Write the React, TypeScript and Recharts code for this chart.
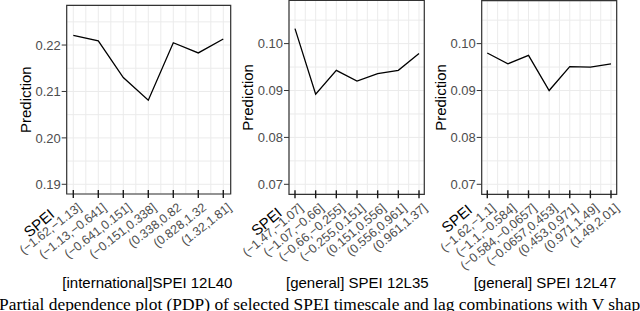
import React from 'react';
import { LineChart, Line, XAxis, YAxis, CartesianGrid, ReferenceArea } from 'recharts';

// bins of the SPEI value, one per x position
const CATS_INTL_L40 = ['(−1.62,−1.13]', '(−1.13,−0.641]', '(−0.641,0.151]', '(−0.151,0.338]', '(0.338,0.82', '(0.828,1.32', '(1.32,1.81]'];
const CATS_GEN_L35 = ['(−1.47,−1.07]', '(−1.07,−0.66]', '(−0.66,−0.255]', '(−0.255,0.151]', '(0.151,0.556]', '(0.556,0.961]', '(0.961,1.37]'];
const CATS_GEN_L47 = ['(−1.62,−1.1]', '(−1.1,−0.584]', '(−0.584,−0.0657]', '(−0.0657,0.453]', '(0.453,0.971]', '(0.971,1.49]', '(1.49,2.01]'];

// predicted values
const PRED_INTL_L40 = [0.2221, 0.2209, 0.213, 0.2081, 0.2205, 0.2183, 0.2213];
const PRED_GEN_L35 = [0.1032, 0.0892, 0.0943, 0.092, 0.0936, 0.0943, 0.0979];
const PRED_GEN_L47 = [0.098, 0.0957, 0.0975, 0.09, 0.0951, 0.095, 0.0957];

const Y_TICKS_L40 = [0.19, 0.2, 0.21, 0.22];
const Y_TICKS_GEN = [0.07, 0.08, 0.09, 0.1];

const TITLES = ['[international]SPEI 12L40', '[general] SPEI 12L35', '[general] SPEI 12L47'];
const CAPTION = 'Partial dependence plot (PDP) of selected SPEI timescale and lag combinations with V shape';

const H = 311;
const SANS = '"Liberation Sans", Arial, sans-serif';

const panels = [
  {
    cats: CATS_INTL_L40, pred: PRED_INTL_L40, yTicks: Y_TICKS_L40, title: TITLES[0],
    chartLeft: 0, plotLeft: 66.7, plotRight: 230.7, plotTop: 5.3, plotBottom: 194,
    xDomain: [0.736, 7.296], yDomain: [0.18791, 0.22856],
    titleX: 147.4, spei: [39, 223], angle: -38,
  },
  {
    cats: CATS_GEN_L35, pred: PRED_GEN_L35, yTicks: Y_TICKS_GEN, title: TITLES[1],
    chartLeft: 234, plotLeft: 289, plotRight: 424.3, plotTop: 0.5, plotBottom: 194.3,
    xDomain: [0.71, 7.256], yDomain: [0.06787, 0.10919],
    titleX: 357.3, spei: [266.5, 221.5], angle: -40,
  },
  {
    cats: CATS_GEN_L47, pred: PRED_GEN_L47, yTicks: Y_TICKS_GEN, title: TITLES[2],
    chartLeft: 428, plotLeft: 481.7, plotRight: 616.7, plotTop: 0.7, plotBottom: 194.3,
    xDomain: [0.729, 7.276], yDomain: [0.06787, 0.10915],
    titleX: 545, spei: [456.7, 218.3], angle: -40,
  },
];

const makeXTick = (cats: string[], angle: number) => (props: any) => {
  const { x, y, payload } = props;
  const v = payload.value;
  if (!Number.isInteger(v)) return <g />;
  const ax = x + 9;
  const ay = y + 15;
  return (
    <g>
      <line x1={x} x2={x} y1={y - 4} y2={y + 4} stroke="#1a1a1a" strokeWidth={1.4} />
      <text
        x={ax}
        y={ay}
        textAnchor="end"
        fontSize={12.5}
        fontFamily={SANS}
        fill="#4d4d4d"
        transform={`rotate(${angle} ${ax} ${ay})`}
      >
        {cats[v - 1]}
      </text>
    </g>
  );
};

const makeYTick = (majors: number[]) => (props: any) => {
  const { x, y, payload } = props;
  if (!majors.some((m) => Math.abs(m - payload.value) < 1e-9)) return <g />;
  return (
    <g>
      <line x1={x + 1} x2={x + 6} y1={y} y2={y} stroke="#333" strokeWidth={1} />
      <text x={x} y={y} dy="0.36em" textAnchor="end" fontSize={13} fontFamily={SANS} fill="#4d4d4d">
        {payload.value.toFixed(2)}
      </text>
    </g>
  );
};

const YLabel = (props: any) => {
  const { viewBox } = props;
  const cx = viewBox.x + viewBox.width - 35.5;
  const cy = viewBox.y + viewBox.height / 2;
  return (
    <text x={cx} y={cy} textAnchor="middle" fontSize={15} fontFamily={SANS} fill="#000" transform={`rotate(-90 ${cx} ${cy})`}>
      Prediction
    </text>
  );
};

const Panel = ({ p }: { p: (typeof panels)[number] }) => {
  const data = p.pred.map((v, i) => ({ x: i + 1, y: v }));
  const xTicks: number[] = [];
  for (let i = 1; i <= p.cats.length; i += 0.5) xTicks.push(i);
  const step = p.yTicks[1] - p.yTicks[0];
  const yAll = [...p.yTicks, ...p.yTicks.map((t) => t + step / 2)].sort((a, b) => a - b);
  const yAxisWidth = p.plotLeft - p.chartLeft;
  const rightPad = 16;
  const width = p.plotRight - p.chartLeft + rightPad;
  return (
    <div style={{ position: 'absolute', left: p.chartLeft, top: 0 }}>
      <LineChart width={width} height={H} data={data} margin={{ top: p.plotTop, right: rightPad, bottom: 0, left: 0 }}>
        <CartesianGrid stroke="#ebebeb" strokeWidth={1} />
        <XAxis
          dataKey="x"
          type="number"
          domain={p.xDomain}
          allowDataOverflow
          ticks={xTicks}
          interval={0}
          height={H - p.plotBottom}
          tickSize={0}
          tickMargin={0}
          tickLine={false}
          axisLine={false}
          tick={makeXTick(p.cats, p.angle)}
        />
        <YAxis
          type="number"
          domain={p.yDomain}
          allowDataOverflow
          ticks={yAll}
          interval={0}
          width={yAxisWidth}
          tickSize={5}
          tickMargin={1}
          tickLine={false}
          axisLine={false}
          tick={makeYTick(p.yTicks)}
          label={<YLabel />}
        />
        <ReferenceArea
          x1={p.xDomain[0]}
          x2={p.xDomain[1]}
          y1={p.yDomain[0]}
          y2={p.yDomain[1]}
          fill="none"
          stroke="#333"
          strokeWidth={1.2}
          ifOverflow="visible"
        />
        <Line type="linear" dataKey="y" stroke="#000" strokeWidth={1.3} dot={false} isAnimationActive={false} />
      </LineChart>
    </div>
  );
};

export default function App() {
  return (
    <div style={{ position: 'absolute', left: 0, top: 0, width: 640, height: H, overflow: 'hidden', background: '#fff' }}>
      {panels.map((p, i) => (
        <Panel key={i} p={p} />
      ))}
      <svg width={640} height={H} style={{ position: 'absolute', left: 0, top: 0, pointerEvents: 'none' }}>
        {panels.map((p, i) => (
          <g key={i}>
            <text
              x={p.spei[0]}
              y={p.spei[1]}
              dy="0.36em"
              textAnchor="middle"
              fontSize={15}
              fontFamily={SANS}
              fill="#000"
              transform={`rotate(-40 ${p.spei[0]} ${p.spei[1]})`}
            >
              SPEI
            </text>
            <text x={p.titleX} y={288} textAnchor="middle" fontSize={15} fontFamily={SANS} fill="#000">
              {p.title}
            </text>
          </g>
        ))}
        <text x={-1} y={310} fontSize={17.4} fontFamily='"Liberation Serif", "Times New Roman", serif' fill="#000">
          {CAPTION}
        </text>
      </svg>
    </div>
  );
}
